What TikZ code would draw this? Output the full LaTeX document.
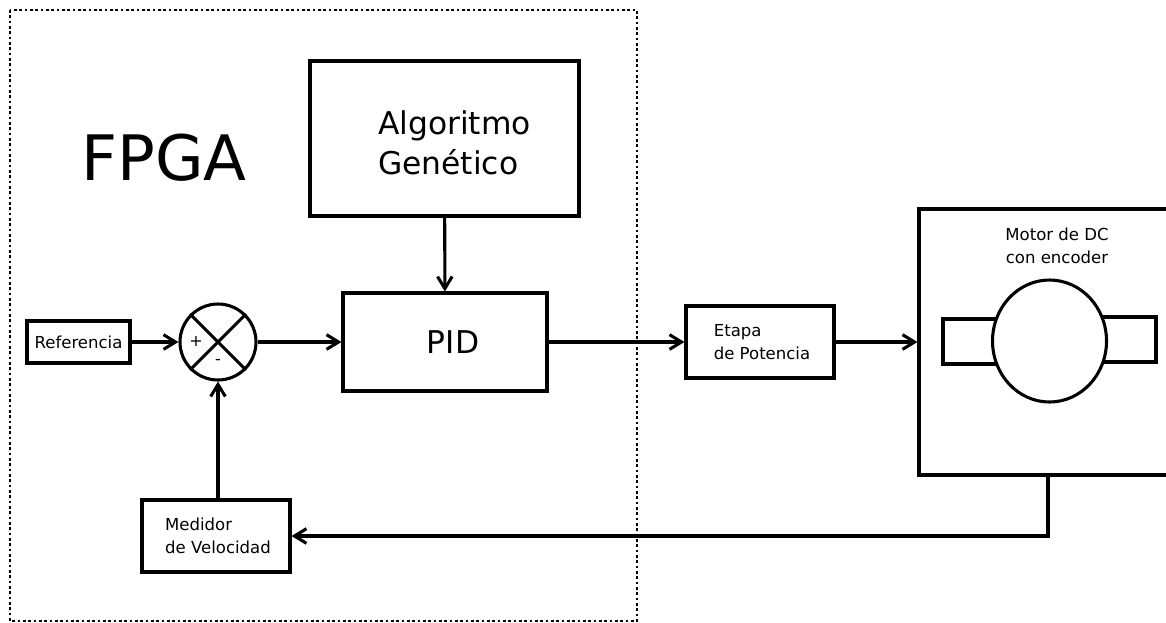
\documentclass[tikz,border=0pt]{standalone}
\usepackage{fontspec}
\setmainfont{DejaVu Sans}
\usetikzlibrary{arrows.meta,shapes.geometric}

\tikzset{
  blk/.style={draw, line width=2.3pt, fill=white, inner sep=0pt, align=center,
              font=\fontsize{12.4}{17}\selectfont},
  bigtxt/.style={font=\fontsize{23.5}{30}\selectfont},
  arr/.style={line width=2.3pt, -{Straight Barb[length=9pt,width=11pt]}},
  wire/.style={line width=2.3pt},
  fpgabox/.style={line width=2pt, dash pattern=on 2pt off 2pt},
}

\begin{document}
\begin{tikzpicture}[x=0.75pt,y=-0.75pt]
  \useasboundingbox (0,0) rectangle (1166,622);
  \clip (0,0) rectangle (1166,622);

  % FPGA boundary
  \draw[fpgabox] (10,10) rectangle (637,621);
  \node[font=\fontsize{47}{50}\selectfont] (fpga) at (164,158) {FPGA};

  % blocks
  \node[blk, minimum width=77.25pt, minimum height=31.5pt] (ref) at (78.5,342) {Referencia};
  \node[draw, circle, line width=2.3pt, minimum size=57pt, inner sep=0pt] (sum) at (218,342) {};
  \draw[wire] (sum.45) -- (sum.225) (sum.135) -- (sum.315);
  \node[font=\fontsize{12}{14}\selectfont] (plus) at (196,341) {+};
  \node[font=\fontsize{12}{14}\selectfont] (minus) at (218,362) {-};

  \node[blk, bigtxt, minimum width=153pt, minimum height=73.5pt] (pid) at (445,342) {\kern12pt PID};
  \node[blk, bigtxt, minimum width=201.75pt, minimum height=116.25pt] (alg) at (444.5,138.5)
    {\kern15pt\raisebox{-6pt}[\height][\depth]{\begin{tabular}{@{}l@{}}Algoritmo\\Genético\end{tabular}}};
  \node[blk, align=left, minimum width=111pt, minimum height=54pt] (etapa) at (760,342) {\kern3pt Etapa\\\kern3pt de Potencia};
  \node[blk, align=left, minimum width=111pt, minimum height=54pt] (med) at (216,536) {\kern3pt Medidor\\\kern3pt de Velocidad};

  % DC motor with encoder
  \node[blk, minimum width=195.75pt, minimum height=199.5pt] (motor) at (1049.5,342) {};
  \node[font=\fontsize{12.4}{17}\selectfont, align=center] (mlabel) at (1057,246) {Motor de DC\\con encoder};
  \draw[wire] (943,319) rectangle (1000,364);
  \draw[wire] (1098,317) rectangle (1156,362);
  \node[draw, ellipse, line width=2.3pt, fill=white, minimum width=85.5pt, minimum height=91.5pt, inner sep=0pt] (rotor) at (1049.5,341) {};

  % signal flow
  \coordinate (fbx) at (1048,475);
  \draw[arr] (ref) -- (sum);
  \draw[arr] (sum.east) -- (sum.east -| pid.west);
  \draw[arr] (alg) -- (pid);
  \draw[arr] (pid.east) -- (pid.east -| etapa.west);
  \draw[arr] (etapa) -- (etapa.east -| motor.west);
  \draw[arr] (motor.south -| fbx) |- (med.east);
  \draw[arr] (med.north -| sum.south) -- (sum.south);
\end{tikzpicture}
\end{document}
